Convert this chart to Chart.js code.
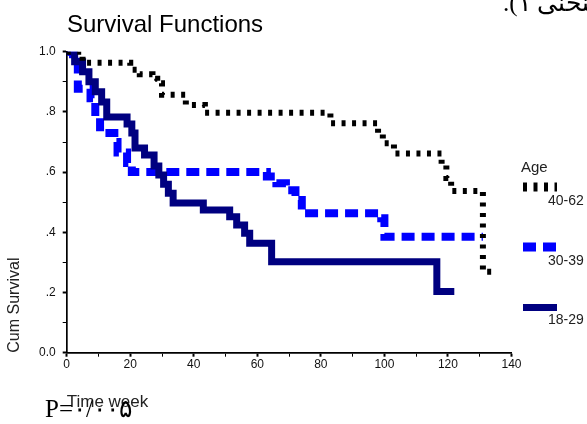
<!DOCTYPE html>
<html>
<head>
<meta charset="utf-8">
<script src="https://cdn.jsdelivr.net/npm/chart.js@4/dist/chart.umd.min.js"></script>
<style>
  html, body { margin: 0; padding: 0; background: #fff; overflow: hidden; width: 587px; height: 424px; }
  #wrap { position: relative; width: 587px; height: 424px; overflow: hidden; }
  canvas { position: absolute; left: 0; top: 0; }
  .note { position: absolute; white-space: nowrap; color: #000; }
</style>
</head>
<body>
<div id="wrap">
  <canvas id="c" width="587" height="424"></canvas>
  <div class="note" dir="rtl" style="left:503px; top:-12px; font: 25px 'Liberation Serif','DejaVu Serif',serif;">(منحنی ۱).</div>
  <div class="note" style="left:45px; top:394px; font: 25px 'Liberation Serif','DejaVu Serif',serif;">P=۰/۰۰۵</div>
</div>
<script>
// ---------------- data ----------------
const chartTitle = 'Survival Functions';
const legendTitle = 'Age';
const seriesNames = ['40-62', '30-39', '18-29'];

// Age 40-62 (step times in weeks, cumulative survival after each step)
const timeA = [0, 5, 20, 23, 27, 28.5, 30, 37.5, 43.5, 83, 98, 99.5, 103, 118, 119.5, 121, 131, 134];
const survA = [1.0, 0.963, 0.94, 0.925, 0.91, 0.895, 0.857, 0.823, 0.797, 0.762, 0.729, 0.696, 0.662, 0.624, 0.58, 0.537, 0.269, 0.269];

// Age 30-39
const timeB = [0, 2, 3.5, 7.5, 9, 10.5, 15, 16, 19, 20.5, 63, 66, 69, 72, 74, 99, 100, 131];
const survB = [1.0, 0.967, 0.877, 0.845, 0.78, 0.73, 0.70, 0.665, 0.63, 0.60, 0.585, 0.563, 0.54, 0.507, 0.463, 0.447, 0.385, 0.385];

// Age 18-29
const timeC = [0, 2.5, 5, 7, 9, 11, 12.6, 19, 20.5, 21.5, 24.5, 27.5, 29, 30.5, 32, 33.5, 43, 51.3, 53.5, 56, 57.6, 64.5, 116.5, 122];
const survC = [1.0, 0.967, 0.933, 0.90, 0.867, 0.833, 0.783, 0.76, 0.73, 0.68, 0.657, 0.62, 0.59, 0.56, 0.53, 0.497, 0.474, 0.452, 0.424, 0.397, 0.364, 0.302, 0.203, 0.203];

const xTickValues = [0, 20, 40, 60, 80, 100, 120, 140];
const xTickLabels = ['0', '20', '40', '60', '80', '100', '120', '140'];
const yTickValues = [0, 0.2, 0.4, 0.6, 0.8, 1.0];
const yTickLabels = ['0.0', '.2', '.4', '.6', '.8', '1.0'];
const xAxisTitle = 'Time week';
const yAxisTitle = 'Cum Survival';

// ---------------- chart ----------------
const toPts = (t, s) => t.map((v, i) => ({ x: v, y: s[i] }));
const FONT = "'Liberation Sans', Arial, sans-serif";

const styles = [
  { color: '#000000', width: 6, dash: [4, 6.5], order: 0, legendWidth: 9, legendY: 187 },
  { color: '#0000ff', width: 8, dash: [13, 7], order: 2, legendWidth: 9, legendY: 247 },
  { color: '#000080', width: 7, dash: [], order: 1, legendWidth: 7, legendY: 307.5 }
];
const legendLabelY = [201, 261, 320];

const datasets = [[timeA, survA], [timeB, survB], [timeC, survC]].map((d, i) => ({
  label: seriesNames[i],
  data: toPts(d[0], d[1]),
  stepped: true,
  borderColor: styles[i].color,
  borderWidth: styles[i].width,
  borderDash: styles[i].dash,
  borderCapStyle: 'butt',
  borderJoinStyle: 'miter',
  pointRadius: 0,
  fill: false,
  order: styles[i].order
}));

const labelFor = (vals, labels, v) => {
  const k = vals.findIndex(a => Math.abs(a - v) < 1e-6);
  return k >= 0 ? labels[k] : '';
};
const isMajor = (vals, v) => vals.some(a => Math.abs(a - v) < 1e-6);

const decor = {
  id: 'decor',
  afterDraw(chart) {
    const ctx = chart.ctx;
    ctx.save();
    ctx.fillStyle = '#000';
    ctx.textBaseline = 'alphabetic';
    ctx.textAlign = 'left';
    ctx.font = '24px ' + FONT;
    ctx.fillText(chartTitle, 67, 32);

    ctx.fillStyle = '#222';
    ctx.font = '15px ' + FONT;
    ctx.fillText(legendTitle, 521, 172);

    chart.data.datasets.forEach((ds, i) => {
      const st = styles[i];
      ctx.save();
      ctx.strokeStyle = st.color;
      ctx.lineWidth = st.legendWidth;
      ctx.setLineDash(st.dash);
      ctx.lineCap = 'butt';
      ctx.beginPath();
      ctx.moveTo(523, st.legendY);
      ctx.lineTo(557, st.legendY);
      ctx.stroke();
      ctx.restore();
      ctx.fillStyle = '#222';
      ctx.font = '14px ' + FONT;
      ctx.textBaseline = 'middle';
      ctx.fillText(ds.label, 548, legendLabelY[i]);
    });
    ctx.restore();
  }
};

new Chart(document.getElementById('c'), {
  type: 'line',
  data: { datasets },
  options: {
    responsive: false,
    animation: false,
    devicePixelRatio: 1,
    layout: { padding: { left: 0, right: 75.5, top: 51.7, bottom: 0 } },
    plugins: { legend: { display: false }, tooltip: { enabled: false }, title: { display: false } },
    scales: {
      x: {
        type: 'linear',
        min: 0, max: 140,
        afterFit: s => { s.height = 71.3; },
        ticks: {
          stepSize: 10, autoSkip: false, maxRotation: 0, padding: 1,
          color: '#111', font: { family: FONT, size: 12 },
          callback: v => labelFor(xTickValues, xTickLabels, v)
        },
        grid: {
          drawOnChartArea: false, drawTicks: true, tickLength: 4,
          tickColor: '#000',
          tickWidth: c => isMajor(xTickValues, c.tick.value) ? 2 : 1
        },
        border: { display: true, color: '#000', width: 1.7 },
        title: {
          display: true, text: xAxisTitle, align: 'start', color: '#222',
          font: { family: FONT, size: 17 }, padding: { top: 0, bottom: 11.3 }
        }
      },
      y: {
        type: 'linear',
        min: 0, max: 1,
        afterFit: s => { s.width = 66.7; },
        ticks: {
          stepSize: 0.1, autoSkip: false, padding: 7,
          color: '#111', font: { family: FONT, size: 12 },
          callback: v => labelFor(yTickValues, yTickLabels, v)
        },
        grid: {
          drawOnChartArea: false, drawTicks: true, tickLength: 4,
          tickColor: '#000',
          tickWidth: c => isMajor(yTickValues, c.tick.value) ? 2 : 1
        },
        border: { display: true, color: '#000', width: 1.7 },
        title: {
          display: true, text: yAxisTitle, align: 'start', color: '#222',
          font: { family: FONT, size: 16 }, padding: { top: 5.4, bottom: 0 }
        }
      }
    }
  },
  plugins: [decor]
});
</script>
</body>
</html>
